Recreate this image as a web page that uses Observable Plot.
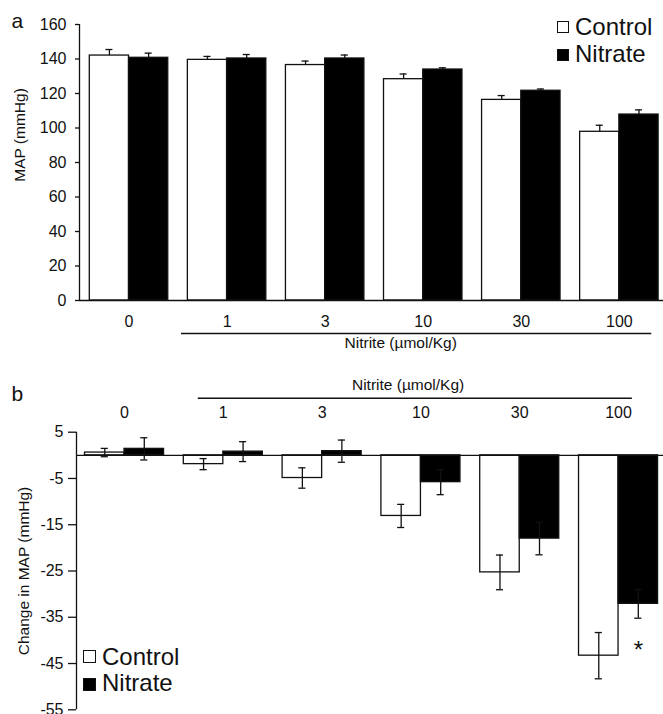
<!DOCTYPE html>
<html>
<head>
<meta charset="utf-8">
<script src="https://cdn.jsdelivr.net/npm/d3@7"></script>
<script src="https://cdn.jsdelivr.net/npm/@observablehq/plot@0.6"></script>
<style>
  body { margin: 0; background: #fff; font-family: "Liberation Sans", Arial, sans-serif; }
  #wrap { position: relative; width: 663px; height: 714px; overflow: hidden; background: #fff; }
  .abs { position: absolute; white-space: nowrap; color: #111; }
  .leg { font-size: 24px; line-height: 24px; }
  .panel { font-size: 21px; line-height: 21px; }
  .box { position: absolute; box-sizing: border-box; border: 1.4px solid #111; }
</style>
</head>
<body>
<div id="wrap">
  <div id="topChart" class="abs" style="left:0;top:0"></div>
  <div id="bottomChart" class="abs" style="left:0;top:357px"></div>

  <div class="abs panel" style="left:11.5px;top:9.5px">a</div>
  <div class="abs panel" style="left:11.5px;top:383px">b</div>

  <div class="box" style="left:557px;top:21px;width:12px;height:12px;background:#fff"></div>
  <div class="abs leg" style="left:575px;top:15.4px">Control</div>
  <div class="box" style="left:557px;top:49px;width:12px;height:12px;background:#000"></div>
  <div class="abs leg" style="left:575px;top:42px">Nitrate</div>

  <div class="box" style="left:83px;top:650px;width:13px;height:13px;background:#fff"></div>
  <div class="abs leg" style="left:102px;top:644.7px">Control</div>
  <div class="box" style="left:83px;top:678px;width:13px;height:13px;background:#000"></div>
  <div class="abs leg" style="left:102px;top:671.4px">Nitrate</div>
</div>
<script>
// ---- data ----
const doses = ["0", "1", "3", "10", "30", "100"];
const groups = ["Control", "Nitrate"];

// Panel a: MAP (mmHg), mean and SEM
const mapControl = [142.0, 139.5, 136.5, 128.3, 116.3, 97.8];
const mapControlErr = [3.5, 2.0, 2.3, 3.0, 2.5, 3.8];
const mapNitrate = [140.7, 140.3, 140.3, 133.9, 121.6, 107.8];
const mapNitrateErr = [2.7, 2.3, 2.0, 1.0, 1.0, 2.7];
const mapTicks = [0, 20, 40, 60, 80, 100, 120, 140, 160];

// Panel b: change in MAP (mmHg), mean and SEM
const changeControl = [0.6, -1.9, -4.9, -13.1, -25.3, -43.3];
const changeControlErr = [0.9, 1.2, 2.2, 2.5, 3.75, 5.0];
const changeNitrate = [1.4, 0.8, 0.9, -5.8, -18.0, -32.1];
const changeNitrateErr = [2.4, 2.15, 2.4, 2.7, 3.5, 3.1];
const changeTicks = [5, -5, -15, -25, -35, -45, -55];

const nitriteLabel = "Nitrite (µmol/Kg)";
const nitriteFrom = doses.indexOf("1");
const nitriteTo = doses.indexOf("100");
const significant = [{dose: "100", group: "Nitrate", mark: "*"}];

// ---- helpers ----
function rows(ctrl, ctrlErr, nit, nitErr) {
  return doses.flatMap((dose, i) => [
    {i, dose, group: "Control", value: ctrl[i], err: ctrlErr[i]},
    {i, dose, group: "Nitrate", value: nit[i], err: nitErr[i]}
  ]);
}
const half = 0.4;   // each bar is 0.4 of a dose step wide
const cap = 0.036;  // error bar cap half-width
const bx1 = d => d.i + (d.group === "Control" ? -half : 0);
const bx2 = d => d.i + (d.group === "Control" ? 0 : half);
const bxc = d => d.i + (d.group === "Control" ? -half / 2 : half / 2);
const ink = "#111";
const font = {fontFamily: "'Liberation Sans', Arial, sans-serif", fontSize: "16px", color: ink, background: "transparent", overflow: "visible"};

// ---- panel a ----
const topData = rows(mapControl, mapControlErr, mapNitrate, mapNitrateErr);
const topX = [-0.505, 5.45];
const topPlot = Plot.plot({
  width: 663, height: 357,
  marginLeft: 79, marginRight: 0, marginTop: 24, marginBottom: 57,
  style: font,
  x: {domain: topX},
  y: {domain: [0, 160]},
  color: {domain: groups, range: ["#fff", "#000"]},
  marks: [
    Plot.rectY(topData, {x1: bx1, x2: bx2, y1: 0, y2: "value", fill: "group", stroke: ink, strokeWidth: 1.3}),
    Plot.ruleX(topData, {x: bxc, y1: "value", y2: d => d.value + d.err, stroke: ink, strokeWidth: 1.3}),
    Plot.ruleY(topData, {y: d => d.value + d.err, x1: d => bxc(d) - cap, x2: d => bxc(d) + cap, stroke: ink, strokeWidth: 1.3}),
    Plot.ruleY([0], {stroke: ink, strokeWidth: 1.3}),
    Plot.ruleX([topX[0]], {stroke: ink, strokeWidth: 1.3}),
    Plot.axisY({ticks: mapTicks, tickSize: 4, tickPadding: 9, label: null, strokeWidth: 1.3}),
    Plot.axisX({ticks: d3.range(doses.length), tickFormat: i => doses[i], tickSize: 0, tickPadding: 15, label: null}),
    Plot.ruleY([0], {x1: nitriteFrom - 0.465, x2: nitriteTo + 0.33, dy: 33, stroke: ink, strokeWidth: 1.5}),
    Plot.text([nitriteLabel], {x: 2.77, y: 0, dy: 43, fill: ink, fontSize: 15.5}),
    Plot.text(["MAP (mmHg)"], {frameAnchor: "left", textAnchor: "middle", lineAnchor: "middle", rotate: -90, dx: -59, dy: -27.5, fill: ink, fontSize: 15.5})
  ]
});
document.getElementById("topChart").append(topPlot);

// ---- panel b ----
const botData = rows(changeControl, changeControlErr, changeNitrate, changeNitrateErr);
const botX = [-0.486, 5.455];
const starData = significant.map(s => ({...botData.find(d => d.dose === s.dose && d.group === s.group), mark: s.mark}));
const botPlot = Plot.plot({
  width: 663, height: 357,
  marginLeft: 76, marginRight: 0, marginTop: 74.7, marginBottom: 4.7,
  style: font,
  x: {domain: botX},
  y: {domain: [-55, 5]},
  color: {domain: groups, range: ["#fff", "#000"]},
  marks: [
    Plot.rectY(botData, {x1: bx1, x2: bx2, y1: 0, y2: "value", fill: "group", stroke: ink, strokeWidth: 1.3}),
    Plot.ruleX(botData, {x: bxc, y1: d => d.value - d.err, y2: d => d.value + d.err, stroke: ink, strokeWidth: 1.3}),
    Plot.ruleY(botData, {y: d => d.value + d.err, x1: d => bxc(d) - cap, x2: d => bxc(d) + cap, stroke: ink, strokeWidth: 1.3}),
    Plot.ruleY(botData, {y: d => d.value - d.err, x1: d => bxc(d) - cap, x2: d => bxc(d) + cap, stroke: ink, strokeWidth: 1.3}),
    Plot.ruleY([0], {stroke: ink, strokeWidth: 1.3}),
    Plot.ruleX([botX[0]], {stroke: ink, strokeWidth: 1.3}),
    Plot.axisY({ticks: changeTicks, tickSize: 8, tickPadding: 5, tickFormat: d => String(d), label: null, strokeWidth: 1.3}),
    Plot.axisX({anchor: "top", ticks: d3.range(doses.length), tickFormat: i => doses[i], tickSize: 0, tickPadding: 14, label: null}),
    Plot.ruleY([5], {x1: nitriteFrom - 0.254, x2: nitriteTo + 0.14, dy: -34, stroke: ink, strokeWidth: 1.5}),
    Plot.text([nitriteLabel], {x: 2.87, y: 5, dy: -46.7, fill: ink, fontSize: 15.5}),
    Plot.text(["Change in MAP (mmHg)"], {frameAnchor: "left", textAnchor: "middle", lineAnchor: "middle", rotate: -90, dx: -52, fill: ink, fontSize: 15.5}),
    Plot.text(starData, {x: bxc, y: d => d.value - d.err, text: "mark", lineAnchor: "top", dy: 23, fill: ink, fontSize: 24})
  ]
});
document.getElementById("bottomChart").append(botPlot);
</script>
</body>
</html>
